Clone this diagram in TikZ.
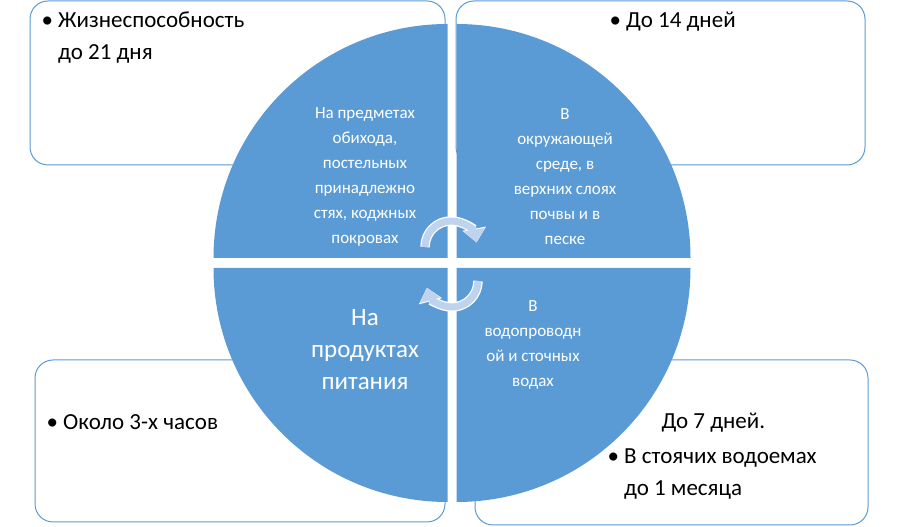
\documentclass[tikz,border=0pt]{standalone}
\usepackage{fontspec}
\setmainfont{Carlito}
\usetikzlibrary{arrows.meta,calc}
\definecolor{qblue}{HTML}{5B9BD5}
\definecolor{albue}{HTML}{BDD3EE}
\tikzset{
 box/.style={draw=qblue,line width=1pt,fill=white,rounded corners=18pt},
 qt/.style={text=white,font=\fontsize{17}{25}\selectfont,align=center},
 bt/.style={text=black,font=\fontsize{23}{32}\selectfont,align=left,anchor=north west},
 carrow/.style={line width=7pt,albue,-{Triangle[length=13pt,width=20pt]},preaction={draw=white,line width=9.5pt,-{Triangle[length=14pt,width=23pt]}}}
}
\begin{document}
\begin{tikzpicture}[x=1pt,y=1pt]
\useasboundingbox (0,0) rectangle (900,527);
% boxes
\draw[box] (30,362) rectangle (445,526);
\draw[box] (456,362) rectangle (865,526);
\draw[box] (35,5) rectangle (445,167);
\draw[box] (475,2) rectangle (868,167);
% circle quadrants
\coordinate (c) at (452,264);
\fill[qblue] ($(c)+(-4.5,5)$) -- +(180:234) arc[start angle=180,end angle=90,radius=234] -- cycle;
\fill[qblue] ($(c)+(4.5,5)$) -- +(90:234) arc[start angle=90,end angle=0,radius=234] -- cycle;
\fill[qblue] ($(c)+(4.5,-5)$) -- +(0:234) arc[start angle=0,end angle=-90,radius=234] -- cycle;
\fill[qblue] ($(c)+(-4.5,-5)$) -- +(-90:234) arc[start angle=-90,end angle=-180,radius=234] -- cycle;
% quadrant texts
\node[qt] (q1) at (365,350) {На предметах\\обихода,\\постельных\\принадлежно\\стях, коджных\\покровах};
\node[qt] (q2) at (565,350) {В\\окружающей\\среде, в\\верхних слоях\\почвы и в\\песке};
\node[qt,font=\fontsize{25}{32}\selectfont] (q3) at (365,177) {На\\продуктах\\питания};
\node[qt] (q4) at (533,182) {В\\водопроводн\\ой и сточных\\водах};
% circular arrows
\draw[carrow] (425,280) arc[start angle=180,end angle=10,radius=26];
\draw[carrow] (478,246) arc[start angle=0,end angle=-165,radius=26];
% box texts
\node[bt] (t1) at (38,519) {• Жизнеспособность\\\hphantom{• }до 21 дня};
\node[bt] (t2) at (606,519) {• До 14 дней};
\node[bt] (t3) at (43,116) {• Около 3-х часов};
\node[bt] (t4a) at (658,118) {До 7 дней.};
\node[bt] (t4) at (604,82) {• В стоячих водоемах\\\hphantom{• }до 1 месяца};
\end{tikzpicture}
\end{document}
